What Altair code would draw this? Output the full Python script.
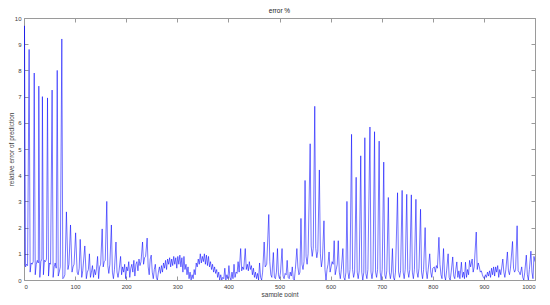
import altair as alt
import pandas as pd

sample_x = [
    0, 1, 3, 5, 7, 10, 12, 14, 16, 18, 20, 22, 24, 26, 28, 29, 31, 33, 35, 36,
    38, 40, 42, 44, 46, 48, 50, 52, 55, 57, 59, 61, 63, 65, 67, 69, 71, 74, 76, 78,
    80, 83, 86, 88, 91, 94, 96, 98, 101, 104, 106, 108, 110, 113, 115, 119, 122, 124, 126, 128,
    130, 132, 134, 136, 138, 140, 142, 144, 146, 148, 150, 153, 155, 157, 159, 162, 164, 166, 168, 171,
    173, 175, 177, 180, 182, 184, 186, 189, 191, 193, 195, 197, 199, 201, 203, 205, 207, 209, 211, 213,
    215, 217, 219, 221, 223, 225, 227, 229, 232, 234, 236, 238, 241, 243, 245, 247, 249, 251, 253, 255,
    257, 259, 261, 263, 265, 267, 269, 271, 273, 275, 277, 279, 281, 283, 285, 287, 289, 291, 293, 295,
    297, 299, 301, 303, 305, 307, 309, 311, 313, 315, 317, 319, 321, 323, 325, 327, 329, 331, 333, 335,
    337, 339, 341, 343, 345, 347, 349, 351, 353, 355, 357, 359, 361, 363, 365, 367, 369, 371, 373, 375,
    377, 379, 381, 383, 385, 387, 389, 391, 393, 395, 397, 399, 401, 403, 405, 407, 409, 411, 413, 415,
    417, 419, 421, 424, 426, 428, 430, 433, 435, 437, 439, 441, 443, 445, 447, 449, 451, 453, 455, 457,
    459, 461, 463, 465, 467, 470, 472, 475, 479, 481, 483, 485, 488, 490, 492, 494, 496, 498, 500, 502,
    505, 507, 509, 511, 513, 515, 517, 519, 521, 523, 525, 527, 529, 531, 534, 536, 538, 540, 542, 544,
    546, 548, 550, 552, 554, 556, 560, 562, 564, 566, 569, 571, 573, 575, 578, 580, 582, 584, 587, 589,
    591, 593, 595, 597, 599, 601, 603, 605, 607, 609, 611, 613, 615, 617, 619, 621, 624, 626, 628, 630,
    632, 634, 636, 638, 641, 643, 645, 647, 650, 652, 654, 656, 659, 661, 663, 665, 667, 669, 671, 673,
    677, 679, 681, 683, 686, 688, 690, 692, 695, 697, 699, 701, 704, 706, 708, 710, 713, 715, 717, 719,
    721, 723, 725, 727, 731, 733, 735, 737, 740, 742, 744, 746, 749, 751, 753, 755, 758, 760, 762, 764,
    767, 769, 771, 773, 776, 778, 780, 782, 785, 787, 789, 791, 794, 796, 798, 800, 803, 805, 807, 809,
    812, 814, 816, 818, 821, 823, 825, 827, 830, 832, 834, 836, 839, 841, 843, 845, 847, 849, 851, 853,
    856, 858, 860, 862, 864, 866, 868, 870, 872, 874, 877, 879, 881, 885, 887, 889, 891, 893, 895, 897,
    899, 901, 903, 905, 907, 909, 911, 913, 915, 917, 919, 921, 923, 925, 927, 929, 931, 933, 935, 937,
    939, 941, 943, 946, 948, 950, 952, 956, 958, 960, 962, 965, 967, 969, 971, 974, 976, 978, 980, 983,
    985, 987, 989, 992, 994, 996, 998, 1000,
]

error_pct = [
    0.55, 9.7, 0.5, 0.6, 0.55, 8.8, 0.3, 0.65, 0.6, 0.7, 7.9, 0.2, 0.6, 0.75, 0.65, 7.4, 0.1, 0.7, 0.8, 7.0,
    0.2, 0.75, 0.7, 0.8, 6.95, 0.15, 0.65, 0.6, 7.25, 0.1, 0.5, 0.65, 0.45, 8.0, 0.15, 0.3, 0.5, 9.2, 0.05, 0.1,
    0.2, 2.6, 0.4, 0.6, 2.1, 0.3, 0.5, 0.6, 1.8, 0.3, 0.2, 0.45, 1.55, 0.1, 0.35, 1.3, 0.05, 0.3, 0.4, 1.0,
    0.1, 0.3, 0.55, 0.1, 0.4, 0.2, 0.45, 0.9, 0.05, 0.5, 0.6, 1.95, 0.5, 0.7, 0.75, 3.0, 0.55, 0.25, 0.6, 2.1,
    0.3, 0.05, 0.4, 1.45, 0.3, 0.1, 0.35, 0.9, 0.2, 0.5, 0.3, 0.6, 0.05, 0.5, 0.35, 0.7, 0.1, 0.45, 0.6, 0.3,
    0.75, 0.15, 0.6, 0.7, 0.35, 0.8, 0.55, 0.7, 1.45, 0.6, 0.85, 0.9, 1.6, 0.5, 0.2, 0.8, 0.95, 0.3, 0.05, 0.4,
    0.6, 0.1, 0.0, 0.3, 0.5, 0.25, 0.55, 0.3, 0.65, 0.45, 0.75, 0.4, 0.8, 0.6, 0.85, 0.5, 0.8, 0.55, 0.9, 0.6,
    0.85, 0.45, 0.9, 0.6, 0.95, 0.5, 0.85, 0.3, 0.9, 0.4, 0.6, 0.2, 0.5, 0.05, 0.3, 0.0, 0.2, 0.05, 0.4, 0.2,
    0.65, 0.5, 0.8, 0.6, 1.0, 0.65, 0.9, 0.7, 1.0, 0.6, 0.95, 0.55, 0.9, 0.5, 0.7, 0.4, 0.6, 0.3, 0.5, 0.25,
    0.4, 0.1, 0.3, 0.0, 0.2, 0.0, 0.1, 0.05, 0.45, 0.0, 0.2, 0.05, 0.55, 0.1, 0.0, 0.3, 0.05, 0.6, 0.1, 0.3,
    0.25, 0.7, 0.3, 1.2, 0.35, 0.5, 0.4, 1.2, 0.4, 0.6, 0.35, 0.7, 0.4, 0.55, 0.2, 0.45, 0.1, 0.3, 0.05, 0.25,
    0.0, 0.65, 0.1, 0.0, 0.3, 1.45, 0.5, 0.6, 2.5, 0.7, 0.2, 0.1, 1.05, 0.1, 0.05, 0.3, 1.2, 0.2, 0.05, 0.3,
    1.2, 0.15, 0.05, 0.25, 0.2, 0.75, 0.1, 0.05, 0.3, 0.15, 0.5, 0.05, 0.0, 0.4, 1.2, 0.5, 0.2, 0.3, 2.35, 0.6,
    0.4, 0.7, 3.8, 0.9, 0.6, 1.0, 5.2, 1.3, 0.9, 1.2, 6.63, 1.2, 0.85, 1.1, 4.2, 1.0, 0.5, 0.8, 2.26, 0.4,
    0.0, 0.4, 0.6, 1.07, 0.3, 0.5, 0.7, 0.6, 1.5, 0.2, 0.4, 0.6, 1.5, 0.3, 0.05, 0.4, 1.2, 0.1, 0.0, 0.3,
    3.0, 0.3, 0.05, 0.4, 5.56, 0.4, 0.1, 0.3, 3.92, 0.3, 0.05, 0.35, 4.74, 0.3, 0.0, 0.3, 5.43, 0.25, 0.05, 0.4,
    5.84, 0.3, 0.05, 0.35, 5.66, 0.3, 0.1, 0.4, 5.3, 0.3, 0.0, 0.4, 4.5, 0.2, 0.05, 0.35, 3.15, 0.3, 0.05, 0.3,
    1.2, 0.1, 0.0, 0.3, 3.33, 0.3, 0.1, 0.35, 3.42, 0.3, 0.05, 0.4, 3.27, 0.35, 0.1, 0.4, 3.25, 0.3, 0.05, 0.4,
    3.08, 0.3, 0.1, 0.45, 2.7, 0.3, 0.05, 0.4, 2.0, 0.35, 0.05, 0.4, 1.0, 0.3, 0.1, 0.45, 0.5, 0.3, 0.55, 0.45,
    1.63, 0.6, 0.2, 0.05, 1.2, 0.15, 0.0, 0.35, 1.0, 0.1, 0.0, 0.3, 0.88, 0.15, 0.05, 0.4, 0.69, 0.1, 0.35, 0.05,
    0.68, 0.1, 0.3, 0.05, 0.68, 0.1, 0.4, 0.2, 0.75, 0.5, 0.8, 0.3, 0.5, 1.83, 0.4, 0.65, 0.5, 0.3, 0.35, 0.2,
    0.1, 0.05, 0.2, 0.1, 0.3, 0.15, 0.35, 0.1, 0.45, 0.2, 0.5, 0.15, 0.5, 0.3, 0.55, 0.1, 0.4, 0.2, 0.5, 0.8,
    0.3, 0.1, 0.4, 1.07, 0.35, 0.2, 0.45, 1.47, 0.45, 0.3, 0.4, 2.07, 0.35, 0.3, 0.2, 0.5, 0.1, 0.0, 0.3, 0.95,
    0.2, 0.0, 0.4, 1.1, 0.3, 0.05, 0.9, 0.7,
]

x_ticks = [0, 100, 200, 300, 400, 500, 600, 700, 800, 900, 1000]
y_ticks = [0, 1, 2, 3, 4, 5, 6, 7, 8, 9, 10]

df = pd.DataFrame({"x": sample_x, "y": error_pct})

W, H = 511, 262
FONT = "Liberation Sans"
AX = "#9a9a9a"
TXT = "#404040"

xs = alt.Scale(domain=[0, 1000], nice=False, zero=False)
ys = alt.Scale(domain=[0, 10], nice=False)

base = alt.Chart(df)

main = base.mark_line(color="#0000ff", strokeWidth=0.55, clip=True).encode(
    x=alt.X("x:Q", scale=xs, axis=alt.Axis(
        orient="bottom", values=x_ticks, format="d", ticks=False, grid=False, domainColor=AX,
        labelFont=FONT, labelFontSize=6, labelColor=TXT, labelPadding=3,
        title="sample point", titleFont=FONT, titleFontSize=6.5, titleFontWeight="normal",
        titleColor=TXT, titlePadding=2)),
    y=alt.Y("y:Q", scale=ys, axis=alt.Axis(
        orient="left", values=y_ticks, format="d", ticks=False, grid=False, domainColor=AX,
        labelFont=FONT, labelFontSize=6, labelColor=TXT, labelPadding=3,
        title="relative error of prediction", titleFont=FONT, titleFontSize=6.5,
        titleFontWeight="normal", titleColor=TXT, titlePadding=0)),
)

inner_a = base.mark_line(strokeOpacity=0).encode(
    x=alt.X("x:Q", scale=xs, axis=alt.Axis(
        orient="top", offset=-H, values=x_ticks, ticks=True, tickSize=4, tickColor=AX,
        labels=False, domain=False, grid=False, title=None)),
    y=alt.Y("y:Q", scale=ys, axis=alt.Axis(
        orient="right", offset=-W, values=y_ticks, ticks=True, tickSize=4, tickColor=AX,
        labels=False, domain=False, grid=False, title=None)),
)

inner_b = base.mark_line(strokeOpacity=0).encode(
    x=alt.X("x:Q", scale=xs, axis=alt.Axis(
        orient="bottom", offset=-H, values=x_ticks, ticks=True, tickSize=4, tickColor=AX,
        labels=False, domain=True, domainColor=AX, grid=False, title=None)),
    y=alt.Y("y:Q", scale=ys, axis=alt.Axis(
        orient="left", offset=-W, values=y_ticks, ticks=True, tickSize=4, tickColor=AX,
        labels=False, domain=True, domainColor=AX, grid=False, title=None)),
)

chart = alt.layer(main, inner_a, inner_b).resolve_axis(
    x="independent", y="independent"
).properties(
    width=W, height=H,
    title=alt.TitleParams("error %", font=FONT, fontSize=6.5, fontWeight="normal",
                          color="#202020", offset=1, anchor="middle"),
    autosize=alt.AutoSizeParams(type="none"),
    padding={"left": 16, "top": 10, "right": 7, "bottom": 17},
).configure_view(stroke=None).configure(background="white")

chart.save("out.html", embed_options={"renderer": "svg", "actions": False})
